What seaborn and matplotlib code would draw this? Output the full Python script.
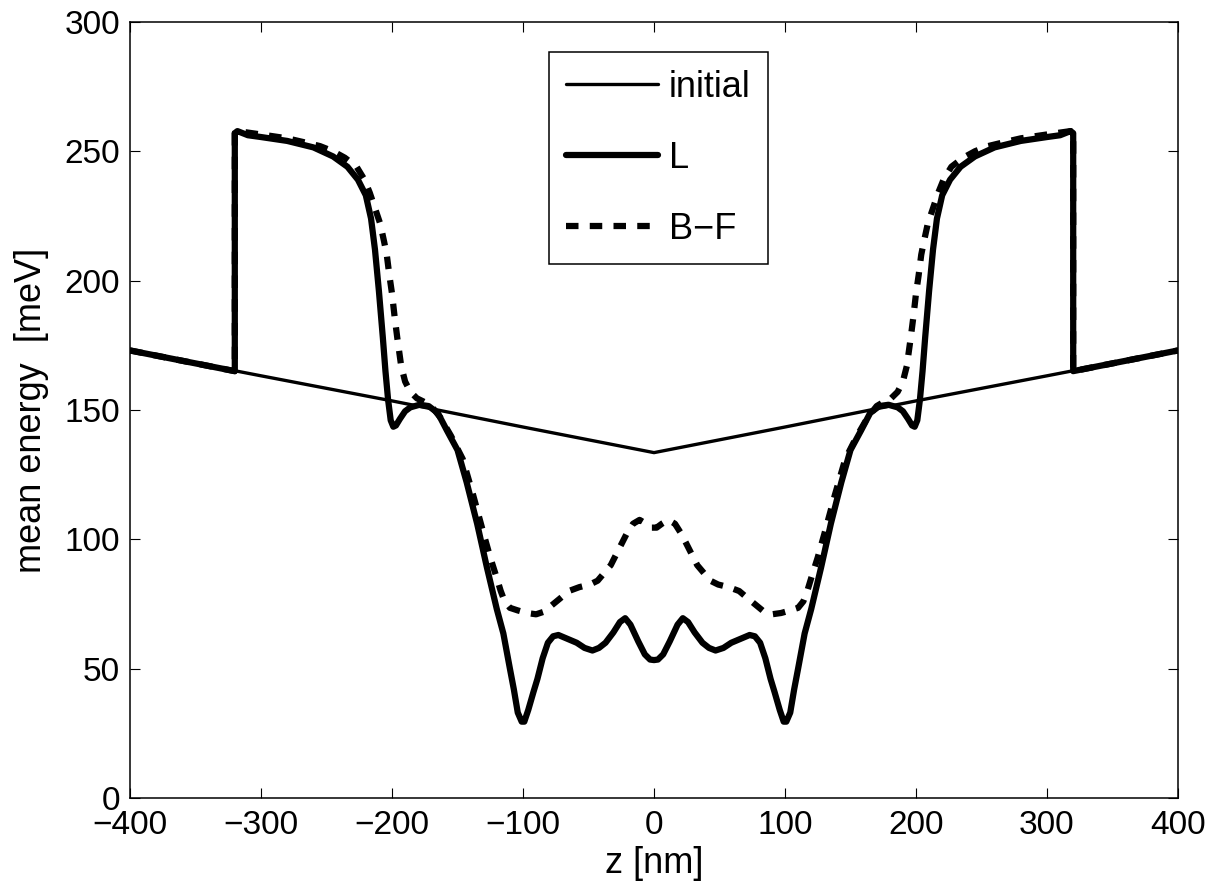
import numpy as np
import pandas as pd
import matplotlib
matplotlib.use("Agg")
import matplotlib.pyplot as plt
import seaborn as sns

# initial potential (piecewise linear V)
z_init = [-400, -300, -200, -100, 0, 100, 200, 300, 400]
e_init = [173, 163.2, 153.5, 143.4, 133.5, 143.4, 153.5, 163.2, 173]

# L model
z_L = [-400, -360, -320, -320, -318, -310, -300, -280, -260, -245, -234, -226, -220,
       -216, -213, -210, -207, -205, -203, -201, -199, -197, -194, -190, -186, -179,
       -172, -165, -158, -150, -143, -135, -127.5, -120, -115, -110, -107, -104, -101,
       -99, -96, -92, -89, -85, -81, -77, -73, -66, -59, -53, -47, -42, -37, -31, -26,
       -22, -18, -12, -7, -3, 0,
       3, 7, 12, 18, 22, 26, 31, 37, 42, 47, 53, 59, 66, 73, 77, 81, 85, 89, 92, 96,
       99, 101, 104, 107, 110, 115, 120, 127.5, 135, 143, 150, 158, 165, 172, 179,
       186, 190, 194, 197, 199, 201, 203, 205, 207, 210, 213, 216, 220, 226, 234, 245,
       260, 280, 300, 310, 318, 320, 320, 360, 400]
e_L = [173, 169, 165, 257, 257.8, 256.2, 255.5, 254, 251.5, 248, 244, 239, 233,
       224, 212, 196, 178, 165, 154, 146, 143.5, 144, 146.5, 149.5, 151, 152,
       151.5, 148.8, 142, 134.5, 122, 106, 89, 73, 63.6, 50, 42, 33, 29.5,
       29.5, 34, 41, 46, 54, 60, 62.5, 63, 61.5, 60, 58, 57, 58, 60, 64, 68,
       69.5, 67, 60.5, 55.5, 53.5, 53.3,
       53.5, 55.5, 60.5, 67, 69.5, 68, 64, 60, 58, 57, 58, 60, 61.5, 63, 62.5, 60, 54, 46, 41, 34,
       29.5, 29.5, 33, 42, 50, 63.6, 73, 89, 106, 122, 134.5, 142, 148.8, 151.5, 152,
       151, 149.5, 146.5, 144, 143.5, 146, 154, 165, 178, 196, 212, 224, 233, 239, 244, 248,
       251.5, 254, 255.5, 256.2, 257.8, 257, 165, 169, 173]

# B-F model
z_BF = [-400, -360, -320, -320, -318, -300, -280, -268, -255, -245, -236, -227, -221,
        -217, -213, -209, -206, -204, -202, -200, -198, -196, -193, -190, -186, -181,
        -175, -170, -163, -155, -146, -138, -130, -125, -120, -117, -114, -110, -104,
        -97, -90, -84, -78, -72, -65, -57, -49, -43, -38, -33, -27, -21, -16, -11, -6,
        -2, 0,
        2, 6, 11, 16, 21, 27, 33, 38, 43, 49, 57, 65, 72, 78, 84, 90, 97, 104, 110,
        114, 117, 120, 125, 130, 138, 146, 155, 163, 170, 175, 181, 186, 190, 193, 196,
        198, 200, 202, 204, 206, 209, 213, 217, 221, 227, 236, 245, 255, 268, 280, 300,
        318, 320, 320, 360, 400]
e_BF = [173, 169, 165, 257, 257.8, 256.5, 255, 253.6, 252, 250, 247.5, 244, 239,
        234, 228, 222, 215, 210, 202, 195, 186, 178, 167, 161, 157, 154.5,
        153, 151.5, 147, 140, 131, 117, 102, 93, 85, 80, 76, 73.5, 72.5,
        71.5, 71, 72, 74.5, 77, 80, 81.5, 82.5, 84, 87, 90, 96, 102, 106, 107.5, 106,
        104.5, 104.5,
        104.5, 106, 107.5, 106, 102, 96, 90, 87, 84, 82.5, 81.5, 80, 77, 74.5, 72, 71, 71.5, 72.5, 73.5,
        76, 80, 85, 93, 102, 117, 131, 140, 147, 151.5, 153, 154.5, 157, 161, 167, 178,
        186, 195, 202, 210, 215, 222, 228, 234, 239, 244, 247.5, 250, 252, 253.6, 255, 256.5,
        257.8, 257, 165, 169, 173]

x_ticks = [-400, -300, -200, -100, 0, 100, 200, 300, 400]
y_ticks = [0, 50, 100, 150, 200, 250, 300]

sns.set_style("ticks")
plt.rcParams['font.family'] = ['Liberation Sans', 'DejaVu Sans']
plt.rcParams['axes.unicode_minus'] = True
plt.rcParams['text.color'] = 'black'
plt.rcParams['axes.labelcolor'] = 'black'

fig = plt.figure(figsize=(12.23, 8.88), dpi=100)
ax = fig.add_axes([0.1063, 0.1014, 0.8569, 0.8739])

sns.lineplot(x=z_init, y=e_init, ax=ax, color='black', linewidth=2.4,
             sort=False, estimator=None, label='initial')
sns.lineplot(x=z_L, y=e_L, ax=ax, color='black', linewidth=4.5,
             sort=False, estimator=None, label='L')
sns.lineplot(x=z_BF, y=e_BF, ax=ax, color='black', linewidth=4.5,
             sort=False, estimator=None, label='B\u2212F')
ax.lines[-1].set_dashes((2.0, 1.8))

ax.set_xlim(-400, 400)
ax.set_ylim(0, 300)
ax.set_xticks(x_ticks)
ax.set_yticks(y_ticks)
ax.tick_params(direction='in', length=7, width=0.8, top=True, right=True,
               labelsize=24, colors='black')
ax.tick_params(axis='y', pad=7)
ax.tick_params(axis='x', pad=9)
for s in ax.spines.values():
    s.set_visible(True)
    s.set_linewidth(1.1)
    s.set_color('black')

ax.set_xlabel('z [nm]', fontsize=26, labelpad=3)
ax.set_ylabel('mean energy  [meV]', fontsize=26, labelpad=11)

leg = ax.legend(loc='upper center', bbox_to_anchor=(0.504, 0.961), fontsize=26,
                frameon=True, fancybox=False, edgecolor='black', framealpha=1,
                handlelength=2.55, labelspacing=1.0, borderpad=0.48, handletextpad=0.3,
                borderaxespad=0)
leg.get_frame().set_linewidth(1.1)

fig.savefig('out.png', dpi=100)
